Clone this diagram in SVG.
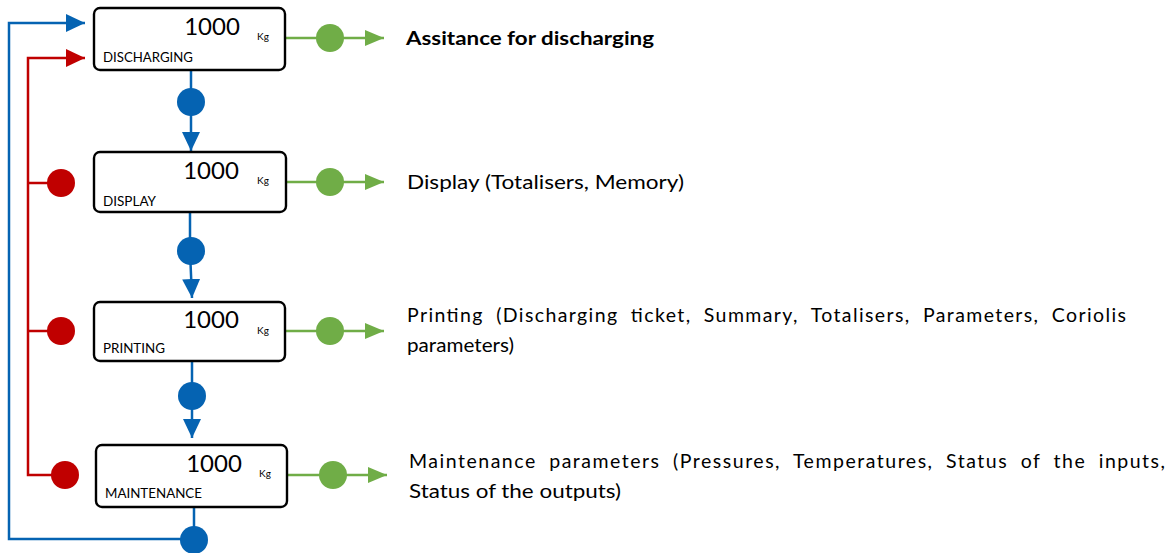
<svg xmlns="http://www.w3.org/2000/svg" width="1176" height="553" viewBox="0 0 1176 553">
<style>
.box{fill:#fff;stroke:#000;stroke-width:2.4}
.num{font-family:Lato,"Open Sans",sans-serif;font-size:24px;fill:#000;text-anchor:middle}
.unit{font-family:Lato,"Open Sans",sans-serif;font-size:10px;fill:#000}
.lbl{font-family:Lato,"Open Sans",sans-serif;font-size:13px;fill:#000}
.txt{font-family:Lato,"Open Sans",sans-serif;font-size:19.5px;fill:#000}
.bold{font-weight:bold}
.blue{stroke:#0563B2;stroke-width:2.5;fill:none}
.red{stroke:#C00000;stroke-width:2.5;fill:none}
.green{stroke:#70AD47;stroke-width:2.5;fill:none}
.bdot{fill:#0563B2}
.rdot{fill:#C00000}
.gdot{fill:#70AD47}
</style>
<defs>
<marker id="ab" markerUnits="userSpaceOnUse" markerWidth="20" markerHeight="20" viewBox="0 0 20 20" refX="19" refY="10" orient="auto"><path d="M0,1 L19,10 L0,19 Z" fill="#0563B2"/></marker>
<marker id="ar" markerUnits="userSpaceOnUse" markerWidth="20" markerHeight="20" viewBox="0 0 20 20" refX="19" refY="10" orient="auto"><path d="M0,1 L19,10 L0,19 Z" fill="#C00000"/></marker>
<marker id="ag" markerUnits="userSpaceOnUse" markerWidth="20" markerHeight="20" viewBox="0 0 20 20" refX="19" refY="10" orient="auto"><path d="M0,2 L19,10 L0,18 Z" fill="#70AD47"/></marker>
</defs>

<g id="connectors">
<path class="blue" d="M194,539 H9 V23 H85" marker-end="url(#ab)"/>
<path class="red" d="M61,183 H28 M61,331 H28 M65,475 H28 V58 H85" marker-end="url(#ar)"/>
<path class="blue" d="M191,70 V151" marker-end="url(#ab)"/>
<path class="blue" d="M190,212 V251 L192,298" marker-end="url(#ab)"/>
<path class="blue" d="M192,361 V438" marker-end="url(#ab)"/>
<path class="blue" d="M194,507 V539"/>
<path class="green" d="M285,38 H384" marker-end="url(#ag)"/>
<path class="green" d="M286,182 H384" marker-end="url(#ag)"/>
<path class="green" d="M285,331 H384" marker-end="url(#ag)"/>
<path class="green" d="M287,475 H387" marker-end="url(#ag)"/>
<circle class="bdot" cx="191" cy="102" r="14"/>
<circle class="bdot" cx="191" cy="251" r="14"/>
<circle class="bdot" cx="192" cy="396" r="14"/>
<circle class="bdot" cx="194" cy="540" r="14"/>
<circle class="rdot" cx="61" cy="183" r="14"/>
<circle class="rdot" cx="61" cy="331" r="14"/>
<circle class="rdot" cx="65" cy="475" r="14"/>
<circle class="gdot" cx="330" cy="38" r="14"/>
<circle class="gdot" cx="330" cy="182" r="14"/>
<circle class="gdot" cx="330" cy="331" r="14"/>
<circle class="gdot" cx="333" cy="475" r="14"/>
</g>

<g id="node-discharging">
<rect class="box" x="94" y="8" width="191" height="62" rx="6"/>
<text class="num" x="212" y="35">1000</text>
<text class="unit" x="257" y="40">Kg</text>
<text class="lbl" x="103" y="62" textLength="90" lengthAdjust="spacingAndGlyphs">DISCHARGING</text>
</g>

<g id="node-display">
<rect class="box" x="94" y="152" width="192" height="60" rx="6"/>
<text class="num" x="211" y="179">1000</text>
<text class="unit" x="257" y="184">Kg</text>
<text class="lbl" x="103" y="206" textLength="53" lengthAdjust="spacingAndGlyphs">DISPLAY</text>
</g>

<g id="node-printing">
<rect class="box" x="94" y="302" width="191" height="59" rx="6"/>
<text class="num" x="211" y="328">1000</text>
<text class="unit" x="257" y="334">Kg</text>
<text class="lbl" x="103" y="353" textLength="62" lengthAdjust="spacingAndGlyphs">PRINTING</text>
</g>

<g id="node-maintenance">
<rect class="box" x="96" y="445" width="191" height="62" rx="6"/>
<text class="num" x="214" y="472">1000</text>
<text class="unit" x="259" y="477">Kg</text>
<text class="lbl" x="105" y="498" textLength="97" lengthAdjust="spacingAndGlyphs">MAINTENANCE</text>
</g>

<g id="labels">
<text class="txt bold" x="406" y="45" textLength="248" lengthAdjust="spacingAndGlyphs">Assitance for discharging</text>
<text class="txt" x="407" y="189" textLength="277" lengthAdjust="spacingAndGlyphs">Display (Totalisers, Memory)</text>
<text class="txt" x="407" y="322" textLength="719" lengthAdjust="spacing" word-spacing="6">Printing (Discharging ticket, Summary, Totalisers, Parameters, Coriolis</text>
<text class="txt" x="407" y="352" textLength="107" lengthAdjust="spacingAndGlyphs">parameters)</text>
<text class="txt" x="409" y="468" textLength="756" lengthAdjust="spacing" word-spacing="6">Maintenance parameters (Pressures, Temperatures, Status of the inputs,</text>
<text class="txt" x="409" y="498" textLength="212" lengthAdjust="spacingAndGlyphs">Status of the outputs)</text>
</g>
</svg>
